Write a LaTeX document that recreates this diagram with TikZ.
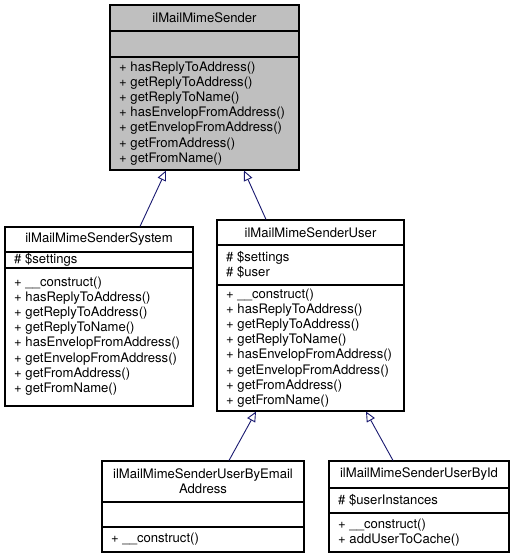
\documentclass[tikz,border=0pt]{standalone}
\usepackage{fontspec}
\setmainfont{TeX Gyre Heros}
\usetikzlibrary{arrows.meta}
\definecolor{edgeblue}{HTML}{191970}
\definecolor{basegray}{HTML}{BFBFBF}
\tikzset{
  classbox/.style={draw=black, line width=1.1pt, inner sep=0pt},
  member/.style={inner sep=0pt, align=left, anchor=west, font=\fontsize{13.1}{15.1}\selectfont},
  title/.style={inner sep=0pt, align=center, font=\fontsize{13.1}{15.1}\selectfont},
  inherit/.style={draw=edgeblue, line width=0.9pt, -{Triangle[open, length=10pt, width=9pt, fill=white]}}
}
\begin{document}
\begin{tikzpicture}[x=1pt, y=-1pt]
            \useasboundingbox (0,0) rectangle (515,559);

            % Base class
            \node[classbox, fill=basegray, minimum width=189pt, minimum height=165pt] (base) at (204.5,87.5) {};
            \draw[line width=1.1pt] (110,31) -- (299,31);
            \draw[line width=1.1pt] (110,57) -- (299,57);
            \node[title] (baseName) at (204.5,18) {ilMailMimeSender};
            \node[member] (baseOps) at (119,113.5) {+ hasReplyToAddress()\\+ getReplyToAddress()\\+ getReplyToName()\\+ hasEnvelopFromAddress()\\+ getEnvelopFromAddress()\\+ getFromAddress()\\+ getFromName()};

            % System sender
            \node[classbox, minimum width=188pt, minimum height=179pt] (sys) at (99,316.5) {};
            \draw[line width=1.1pt] (5,252) -- (193,252);
            \draw[line width=1.1pt] (5,268) -- (193,268);
            \node[title] (sysName) at (99,239.5) {ilMailMimeSenderSystem};
            \node[member] (sysAttr) at (14,260) {\# \$settings};
            \node[member] (sysOps) at (14,336) {+ \_\_construct()\\+ hasReplyToAddress()\\+ getReplyToAddress()\\+ getReplyToName()\\+ hasEnvelopFromAddress()\\+ getEnvelopFromAddress()\\+ getFromAddress()\\+ getFromName()};

            % User sender
            \node[classbox, minimum width=187pt, minimum height=191pt] (user) at (310.5,315.5) {};
            \draw[line width=1.1pt] (217,245) -- (404,245);
            \draw[line width=1.1pt] (217,285) -- (404,285);
            \node[title] (userName) at (310.5,232.5) {ilMailMimeSenderUser};
            \node[member] (userAttr) at (226,265) {\# \$settings\\\# \$user};
            \node[member] (userOps) at (226,348) {+ \_\_construct()\\+ hasReplyToAddress()\\+ getReplyToAddress()\\+ getReplyToName()\\+ hasEnvelopFromAddress()\\+ getEnvelopFromAddress()\\+ getFromAddress()\\+ getFromName()};

            % User by email address
            \node[classbox, minimum width=202pt, minimum height=91pt] (email) at (203,506.5) {};
            \draw[line width=1.1pt] (102,502) -- (304,502);
            \draw[line width=1.1pt] (102,527) -- (304,527);
            \node[title] (emailName) at (203,481.5) {ilMailMimeSenderUserByEmail\\Address};
            \node[member] (emailOps) at (111,539.5) {+ \_\_construct()};

            % User by id
            \node[classbox, minimum width=180pt, minimum height=91pt] (byid) at (419,506.5) {};
            \draw[line width=1.1pt] (329,488) -- (509,488);
            \draw[line width=1.1pt] (329,513) -- (509,513);
            \node[title] (byidName) at (419,474.5) {ilMailMimeSenderUserById};
            \node[member] (byidAttr) at (338,500.5) {\# \$userInstances};
            \node[member] (byidOps) at (338,532.5) {+ \_\_construct()\\+ addUserToCache()};

            % Inheritance arrows
            \draw[inherit] ([xshift=41pt]sys.north) -- ([xshift=-38.5pt]base.south);
            \draw[inherit] ([xshift=-44.5pt]user.north) -- ([xshift=39.5pt]base.south);
            \draw[inherit] ([xshift=26pt]email.north) -- ([xshift=-54.5pt]user.south);
            \draw[inherit] ([xshift=-26pt]byid.north) -- ([xshift=55.5pt]user.south);
\end{tikzpicture}
\end{document}
